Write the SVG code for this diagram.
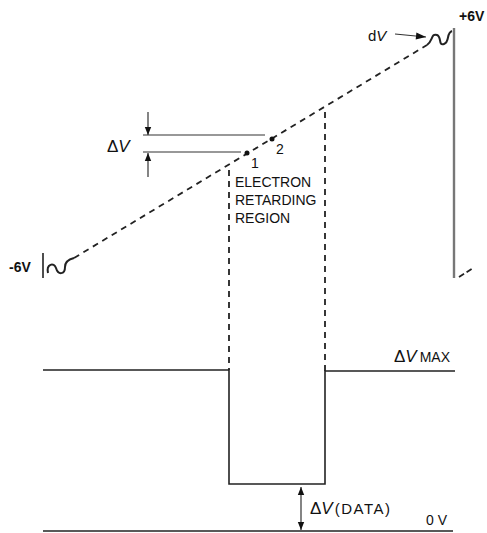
<svg xmlns="http://www.w3.org/2000/svg" width="487" height="533" viewBox="0 0 487 533">
<style>
.ln{stroke:#222;stroke-width:1.6;fill:none}
.sq{stroke:#222;stroke-width:2;fill:none}
.thin{stroke:#333;stroke-width:1.2;fill:none}
.dash{stroke:#222;stroke-width:1.8;fill:none;stroke-dasharray:6,5}
.t{font-family:"Liberation Sans","DejaVu Sans",sans-serif;fill:#111}
</style>
<defs>
<marker id="ah" viewBox="0 0 10 10" refX="10" refY="5" markerWidth="8" markerHeight="8" orient="auto-start-reverse" markerUnits="userSpaceOnUse">
<path d="M0,1 L10,5 L0,9 Z" fill="#111"/>
</marker>
<marker id="ah2" viewBox="0 0 10 10" refX="10" refY="5" markerWidth="14" markerHeight="10" orient="auto" markerUnits="userSpaceOnUse">
<path d="M0,1.5 L10,5 L0,8.5 Z" fill="#111"/>
</marker>
</defs>
<g id="connectors">
<path class="dash" d="M74,258 L427,45"/>
<path class="dash" d="M229,170 L229,370"/>
<path class="dash" d="M325,112 L325,371"/>
<path class="dash" d="M459,277 L473,268" style="stroke-dasharray:6,3"/>
<path class="thin" d="M395,34 L426,37" marker-end="url(#ah2)"/>
<path class="thin" d="M148,112 L148,135" marker-end="url(#ah)"/>
<path class="thin" d="M148,177 L148,153" marker-end="url(#ah)"/>
<path class="thin" d="M301,487 L301,530" marker-start="url(#ah)" marker-end="url(#ah)"/>
</g>
<g id="supply-minus">
<path class="ln" d="M43,253 L43,278"/>
<path class="sq" d="M48,273 C46,264 54,262 56,268 C58,275 65,275 65,267 C65,261 70,259 74,258"/>
<text class="t" x="9" y="272" font-size="14" font-weight="bold">-6V</text>
</g>
<g id="supply-plus">
<path d="M454,28 L454,278" stroke="#777" stroke-width="2.4" fill="none"/>
<path class="sq" d="M427,45 C433,41 431,33 437,35 C442,37 438,46 444,44 C450,42 446,33 452,31"/>
<text class="t" x="459" y="21" font-size="14" font-weight="bold">+6V</text>
<text class="t" x="368" y="41" font-size="15">d<tspan font-style="italic">V</tspan></text>
</g>
<g id="delta-v">
<path class="thin" d="M143,135 L265,135"/>
<path class="thin" d="M143,152 L241,152"/>
<text class="t" x="107" y="152" font-size="17">Δ<tspan font-style="italic">V</tspan></text>
</g>
<g id="point-1">
<circle cx="247" cy="153" r="2.5" fill="#111"/>
<text class="t" x="251" y="168" font-size="14">1</text>
</g>
<g id="point-2">
<circle cx="272" cy="139" r="2.5" fill="#111"/>
<text class="t" x="276" y="154" font-size="14">2</text>
</g>
<g id="region-label">
<text class="t" x="235" y="187" font-size="14">ELECTRON</text>
<text class="t" x="235" y="205" font-size="14">RETARDING</text>
<text class="t" x="235" y="223" font-size="14">REGION</text>
</g>
<g id="waveform">
<path class="ln" d="M43,370 L229,370 L229,484 L325,484 L325,371 L455,371"/>
<path class="ln" d="M43,531 L453,531"/>
<text class="t" x="394" y="362" font-size="17">Δ<tspan font-style="italic">V</tspan><tspan font-size="14" dx="3">MAX</tspan></text>
<text class="t" x="310" y="514" font-size="17">Δ<tspan font-style="italic">V</tspan><tspan font-size="15" dx="2" letter-spacing="1.5">(DATA)</tspan></text>
<text class="t" x="426" y="525" font-size="14">0 V</text>
</g>
</svg>
